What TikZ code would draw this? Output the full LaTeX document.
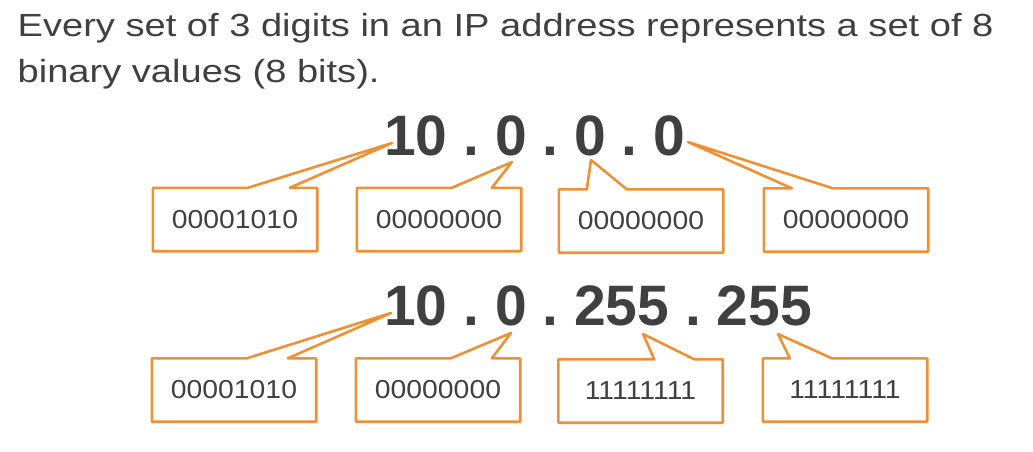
\documentclass[tikz,border=0pt]{standalone}
\usepackage{fontspec}
\setmainfont{Liberation Sans}
\newfontfamily\titlefont[FakeStretch=1.19]{Liberation Sans}
\newfontfamily\binfont[FakeStretch=1.09]{Liberation Sans}
\usetikzlibrary{calc}
\definecolor{orng}{RGB}{238,144,52}
\definecolor{txt}{RGB}{64,64,64}
\frenchspacing
\newcommand{\callbox}[4]{\draw[callout] (#1.north west) -- ($(#1.north west)+(#2,0)$) -- (#3) -- ($(#1.north west)+(#4,0)$) -- (#1.north east) -- (#1.south east) -- (#1.south west) -- cycle;}
\begin{document}
\begin{tikzpicture}[x=1pt,y=-1pt,
  binbox/.style={draw=none, minimum width=164pt, minimum height=63pt, inner sep=0pt, font=\binfont\fontsize{26}{26}\selectfont, text=txt},
  callout/.style={draw=orng, line width=2.6pt, line join=round},
  ip/.style={font=\frenchspacing\fontsize{57}{57}\selectfont\bfseries, text=txt, anchor=base west, inner sep=0pt},
  titletext/.style={font=\titlefont\fontsize{32}{32}\selectfont, text=txt, anchor=base west, inner sep=0pt}]
\useasboundingbox (0,0) rectangle (1033,452);
\node[titletext] (title1) at (17.5,37) {Every set of 3 digits in an IP address represents a set of 8};
\node[titletext] (title2) at (17.5,82) {binary values (8 bits).};
% row 1
\node[ip] (ip1) at (384,155) {10 . 0 . 0 . 0};
\node[binbox] (a1) at (235,219.5) {00001010};
\node[binbox] (a2) at (439,219.5) {00000000};
\node[binbox] (a3) at (641,221) {00000000};
\node[binbox] (a4) at (846,220) {00000000};
\coordinate (ta1) at (392,143);
\coordinate (ta2) at (512,162);
\coordinate (ta3) at (591,160);
\coordinate (ta4) at (688,142);
\callbox{a1}{95}{ta1}{137}
\callbox{a2}{95}{ta2}{135}
\callbox{a3}{28}{ta3}{68}
\callbox{a4}{28}{ta4}{69}
% row 2
\node[ip] (ip2) at (384,325) {10 . 0 . 255 . 255};
\node[binbox] (b1) at (234,390) {00001010};
\node[binbox] (b2) at (438,390) {00000000};
\node[binbox] (b3) at (640.5,391) {11111111};
\node[binbox] (b4) at (845,390) {11111111};
\coordinate (tb1) at (391,313);
\coordinate (tb2) at (511,333);
\coordinate (tb3) at (643,334);
\coordinate (tb4) at (778,334);
\callbox{b1}{95}{tb1}{136}
\callbox{b2}{95}{tb2}{136}
\callbox{b3}{96}{tb3}{136}
\callbox{b4}{27}{tb4}{69}
\end{tikzpicture}
\end{document}
